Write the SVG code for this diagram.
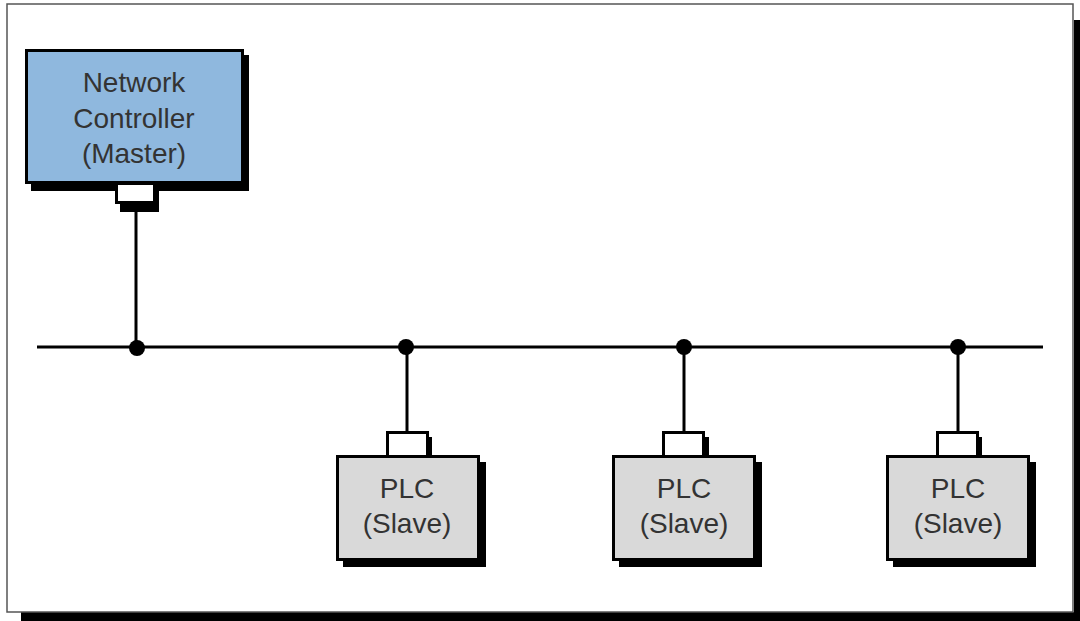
<svg xmlns="http://www.w3.org/2000/svg" width="1080" height="621" viewBox="0 0 1080 621">
<style>
.shadow{fill:#000}
.master{fill:#8fb8de;stroke:#000;stroke-width:3}
.slave{fill:#d9d9d9;stroke:#000;stroke-width:3}
.port{fill:#fff;stroke:#000;stroke-width:3}
.wire{stroke:#000;stroke-width:3;fill:none}
.dot{fill:#000}
.lbl{font-family:"Liberation Sans",Arial,sans-serif;font-size:28px;fill:#333;text-anchor:middle}
</style>
<rect x="0" y="0" width="1080" height="621" fill="#fff"/>
<g id="frame">
<rect x="21" y="612" width="1059" height="9" class="shadow"/>
<rect x="1074" y="20" width="6" height="601" class="shadow"/>
<rect x="7" y="4" width="1066" height="608" fill="#fff" stroke="#555" stroke-width="1.5"/>
</g>
<g id="connectors">
<line x1="37" y1="347" x2="1043" y2="347" class="wire"/>
<line x1="136" y1="202" x2="136" y2="347" class="wire"/>
<line x1="407" y1="347" x2="407" y2="432" class="wire"/>
<line x1="684" y1="347" x2="684" y2="432" class="wire"/>
<line x1="958" y1="347" x2="958" y2="432" class="wire"/>
<circle cx="137" cy="348" r="8" class="dot"/>
<circle cx="406" cy="347" r="8" class="dot"/>
<circle cx="684" cy="347" r="8" class="dot"/>
<circle cx="958" cy="347" r="8" class="dot"/>
</g>
<g id="master">
<rect x="31" y="55" width="218" height="136" class="shadow"/>
<rect x="26.5" y="50.5" width="216" height="132" class="master"/>
<rect x="120" y="188" width="39" height="24" class="shadow"/>
<rect x="116.5" y="183.5" width="38" height="19" class="port"/>
<text x="134" y="92" class="lbl">Network</text>
<text x="134" y="128" class="lbl">Controller</text>
<text x="134" y="163" class="lbl">(Master)</text>
</g>
<g id="plc1">
<rect x="391" y="437" width="41" height="22" class="shadow"/>
<rect x="387.5" y="432.5" width="40" height="24" class="port"/>
<rect x="343" y="462" width="143" height="105" class="shadow"/>
<rect x="337.5" y="456.5" width="141" height="103" class="slave"/>
<text x="407" y="498" class="lbl">PLC</text>
<text x="407" y="533" class="lbl">(Slave)</text>
</g>
<g id="plc2">
<rect x="668" y="437" width="41" height="22" class="shadow"/>
<rect x="663.5" y="432.5" width="40" height="24" class="port"/>
<rect x="619" y="462" width="143" height="105" class="shadow"/>
<rect x="613.5" y="456.5" width="141" height="103" class="slave"/>
<text x="684" y="498" class="lbl">PLC</text>
<text x="684" y="533" class="lbl">(Slave)</text>
</g>
<g id="plc3">
<rect x="941" y="437" width="41" height="22" class="shadow"/>
<rect x="937.5" y="432.5" width="40" height="24" class="port"/>
<rect x="893" y="462" width="143" height="105" class="shadow"/>
<rect x="887.5" y="456.5" width="141" height="103" class="slave"/>
<text x="958" y="498" class="lbl">PLC</text>
<text x="958" y="533" class="lbl">(Slave)</text>
</g>
</svg>
